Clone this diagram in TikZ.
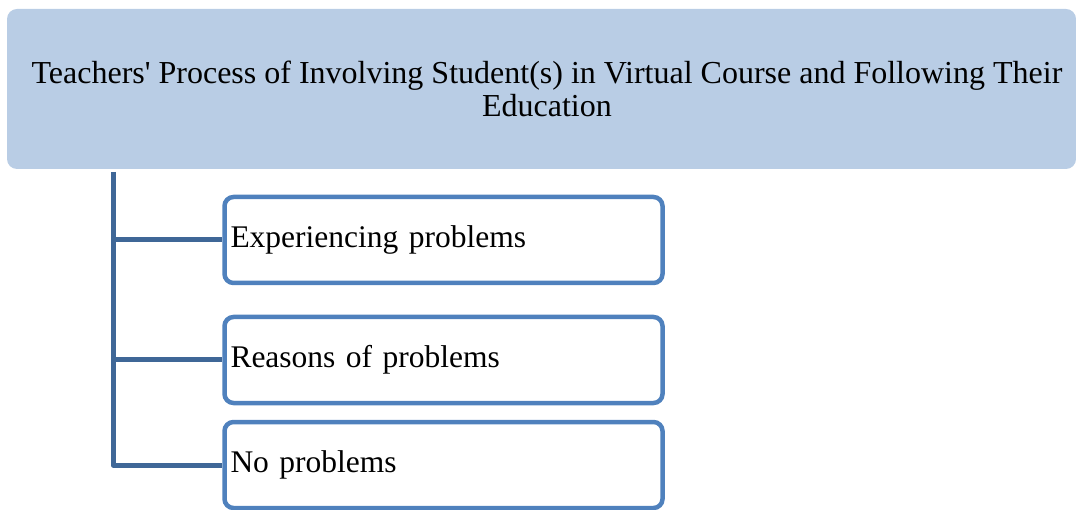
\documentclass[tikz,border=0pt]{standalone}
\usepackage{fontspec}
\setmainfont{Liberation Serif}
\usepackage{tikz}
\usetikzlibrary{positioning}

\definecolor{headfill}{HTML}{B9CDE5}
\definecolor{boxline}{HTML}{4F81BD}
\definecolor{treeline}{HTML}{3F6797}

\tikzset{
  headbox/.style={fill=headfill, rounded corners=10pt, minimum width=1069pt,
    minimum height=160pt, align=center, inner sep=0pt,
    font=\fontsize{32}{33}\selectfont},
  itembox/.style={draw=boxline, line width=4.5pt, rounded corners=9pt,
    minimum width=438pt, minimum height=86pt, text width=426pt, align=left,
    inner sep=3pt, font=\fontsize{31.5}{33}\selectfont},
  tree/.style={draw=treeline, line width=5pt, line join=round}
}

\begin{document}
\begin{tikzpicture}[x=1pt,y=-1pt]
    \useasboundingbox (0,0) rectangle (1076,510);
    % Caixa principal
    \node[headbox] (title) at (541.5,89) {\hspace*{11pt}Teachers\textquotesingle{} Process of Involving Student(s) in Virtual Course and Following Their\\\hspace*{11pt}Education};
    % Itens
    \node[itembox] (exp) at (443.5,240) {Experiencing problems};
    \node[itembox] (reas) at (443.5,360) {Reasons of problems};
    \node[itembox] (nop) at (443.5,465) {No problems};
    % Ligacoes
    \coordinate (spine) at (113,172);
    \draw[tree] (spine) |- (nop.west);
    \foreach \n in {exp,reas}
        \draw[tree] (spine |- \n.west) -- (\n.west);
\end{tikzpicture}
\end{document}
